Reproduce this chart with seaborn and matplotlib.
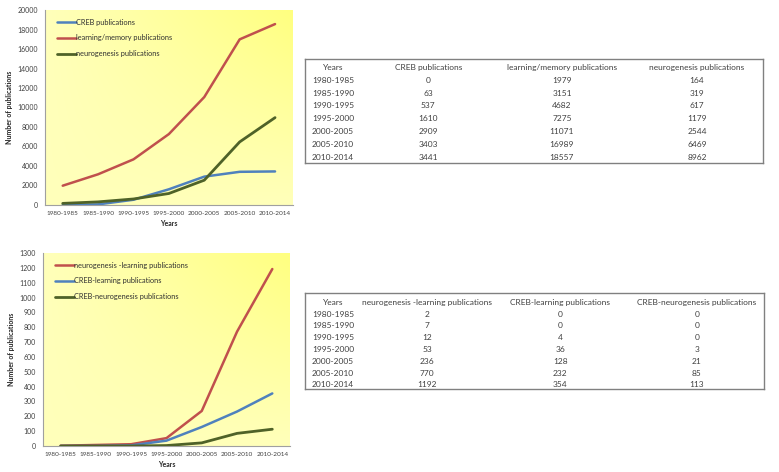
import matplotlib
matplotlib.use("Agg")
import matplotlib.pyplot as plt
import seaborn as sns
import numpy as np
import pandas as pd

years = ["1980-1985", "1985-1990", "1990-1995", "1995-2000",
         "2000-2005", "2005-2010", "2010-2014"]

creb = [0, 63, 537, 1610, 2909, 3403, 3441]
learning_memory = [1979, 3151, 4682, 7275, 11071, 16989, 18557]
neurogenesis = [164, 319, 617, 1179, 2544, 6469, 8962]

neuro_learning = [2, 7, 12, 53, 236, 770, 1192]
creb_learning = [0, 0, 4, 36, 128, 232, 354]
creb_neuro = [0, 0, 0, 3, 21, 85, 113]

top_names = ["CREB publications", "learning/memory publications", "neurogenesis publications"]
bottom_names = ["neurogenesis -learning publications", "CREB-learning publications",
                "CREB-neurogenesis publications"]

BLUE = "#4F81BD"
RED = "#C0504D"
GREEN = "#4F6228"

sns.set_style("white")
plt.rcParams["font.family"] = ["Lato", "DejaVu Sans"]

fig = plt.figure(figsize=(7.79, 4.72), dpi=100)


def gradient_bg(ax):
    # pale near the top-left, stronger yellow towards the top-right
    xx, yy = np.meshgrid(np.linspace(0, 1, 200), np.linspace(0, 1, 200))
    t = 0.45 + 0.55 * xx * yy
    white = np.array([1.0, 1.0, 0.92])
    yellow = np.array([1.0, 1.0, 0.5])
    img = white[None, None, :] + (yellow - white)[None, None, :] * t[..., None]
    ax.imshow(img, extent=[0, 1, 0, 1], transform=ax.transAxes, origin="lower",
              aspect="auto", zorder=0, interpolation="bilinear")


def draw_chart(ax, series, names, colors, widths, ymax, ystep):
    gradient_bg(ax)
    for vals, name, col, lw in zip(series, names, colors, widths):
        df = pd.DataFrame({"Years": years, "n": vals})
        sns.lineplot(data=df, x="Years", y="n", ax=ax, color=col, linewidth=lw,
                     label=name, zorder=3)
    ax.set_xlim(-0.5, len(years) - 0.5)
    ax.set_ylim(0, ymax)
    ax.set_yticks(np.arange(0, ymax + 1, ystep))
    ax.set_xticks(range(len(years)))
    ax.set_xticklabels(years)
    ax.set_xticks(np.arange(-0.5, len(years), 1), minor=True)
    ax.tick_params(axis="x", which="major", length=0, labelsize=4.6, pad=4, colors="#404040")
    ax.tick_params(axis="x", which="minor", length=3, color="#A0A0A0", direction="out")
    ax.tick_params(axis="y", length=3, labelsize=5, color="#A0A0A0", labelcolor="#404040",
                   direction="out", pad=2)
    for s in ["top", "right"]:
        ax.spines[s].set_visible(False)
    for s in ["left", "bottom"]:
        ax.spines[s].set_color("#A0A0A0")
        ax.spines[s].set_linewidth(0.8)
    ax.set_xlabel("Years", fontsize=5, fontweight="bold", labelpad=3)
    ax.set_ylabel("Number of publications", fontsize=5, fontweight="bold", labelpad=3)
    leg = ax.legend(loc="upper left", frameon=False, fontsize=5.3, handlelength=2.6,
                    handletextpad=0.0, labelspacing=1.2, bbox_to_anchor=(0.02, 0.99))
    for t in leg.get_texts():
        t.set_color("#303030")


def draw_table(ax, header, rows, col_x, header_y, row_y):
    ax.set_xlim(0, 1)
    ax.set_ylim(0, 1)
    ax.set_xticks([])
    ax.set_yticks([])
    for s in ax.spines.values():
        s.set_color("#808080")
        s.set_linewidth(1.0)
    for x, h in zip(col_x, header):
        ax.text(x, header_y, h, ha="center", va="center", fontsize=6, color="#404040")
    for r, y in zip(rows, row_y):
        for x, v in zip(col_x, r):
            ax.text(x, y, str(v), ha="center", va="center", fontsize=6, color="#404040")


ax1 = fig.add_axes([0.0578, 0.5657, 0.318, 0.4131])
draw_chart(ax1, [creb, learning_memory, neurogenesis], top_names,
           [BLUE, RED, GREEN], [1.8, 1.8, 2.0], 20000, 2000)

ax2 = fig.add_axes([0.0552, 0.0551, 0.317, 0.4089])
draw_chart(ax2, [neuro_learning, creb_learning, creb_neuro], bottom_names,
           [RED, BLUE, GREEN], [1.8, 1.8, 2.0], 1300, 100)

t1 = fig.add_axes([0.3915, 0.6547, 0.588, 0.2203])
rows1 = list(zip(years, creb, learning_memory, neurogenesis))
draw_table(t1, ["Years"] + top_names, rows1, [0.061, 0.269, 0.561, 0.856],
           0.923, np.linspace(0.798, 0.048, len(years)))

t2 = fig.add_axes([0.3915, 0.1758, 0.589, 0.2034])
rows2 = list(zip(years, neuro_learning, creb_learning, creb_neuro))
draw_table(t2, ["Years"] + bottom_names, rows2, [0.061, 0.266, 0.556, 0.854],
           0.906, np.linspace(0.781, 0.042, len(years)))

fig.savefig("out.png", dpi=100, facecolor="white")
